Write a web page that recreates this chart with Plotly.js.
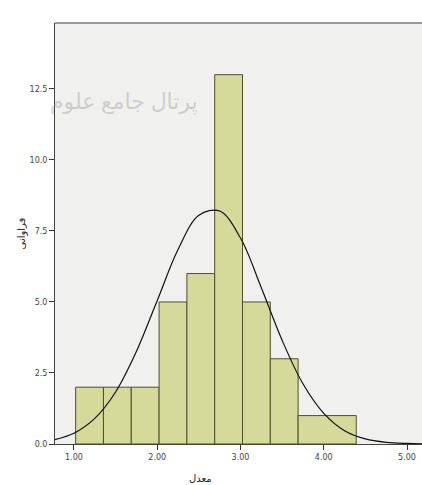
<!DOCTYPE html>
<html>
<head>
<meta charset="utf-8">
<script src="https://cdn.plot.ly/plotly-3.0.1.min.js"></script>
<style>html,body{margin:0;padding:0;background:#fff;}#chart{width:422px;height:485px;}</style>
</head>
<body>
<div id="chart"></div>
<script>
// Histogram bins
const binStart = [1.02, 1.354, 1.688, 2.022, 2.356, 2.69, 3.024, 3.358, 3.692];
const binEnd   = [1.354, 1.688, 2.022, 2.356, 2.69, 3.024, 3.358, 3.692, 4.39];
const counts   = [2, 2, 2, 5, 6, 13, 5, 3, 1];

// Normal curve values
const curveX = [0.75, 1.0, 1.25, 1.5, 1.75, 2.0, 2.25, 2.5, 2.75, 3.0, 3.25, 3.5, 3.75, 4.0, 4.25, 4.5, 4.75, 5.0, 5.25];
const curveY = [0.14, 0.38, 0.90, 1.83, 3.26, 5.05, 6.85, 8.05, 8.2, 7.25, 5.5, 3.65, 2.12, 1.08, 0.47, 0.18, 0.06, 0.02, 0.005];

const xTickVals = [1, 2, 3, 4, 5];
const xTickText = ["1.00", "2.00", "3.00", "4.00", "5.00"];
const yTickVals = [0, 2.5, 5, 7.5, 10, 12.5];
const yTickText = ["0.0", "2.5", "5.0", "7.5", "10.0", "12.5"];

const xTitle = "معدل";
const yTitle = "فراوانی";
const watermark = "پرتال جامع علوم";

const centers = binStart.map((s, i) => (s + binEnd[i]) / 2);
const widths = binStart.map((s, i) => binEnd[i] - s);

const traces = [
  {
    type: "bar",
    x: centers,
    y: counts,
    width: widths,
    marker: { color: "#d5d99a", line: { color: "#4f4f2a", width: 1 } },
    hoverinfo: "skip"
  },
  {
    type: "scatter",
    mode: "lines",
    x: curveX,
    y: curveY,
    line: { color: "#111", width: 1.2, shape: "spline" },
    hoverinfo: "skip"
  }
];

const axisFont = { family: "DejaVu Sans, sans-serif", size: 8, color: "#444" };
const titleFont = { family: "Noto Sans, DejaVu Sans, sans-serif", size: 10, color: "#222" };

const layout = {
  width: 422,
  height: 485,
  margin: { l: 55, r: 0, t: 23, b: 41 },
  paper_bgcolor: "#ffffff",
  plot_bgcolor: "#f0f0ef",
  showlegend: false,
  bargap: 0,
  xaxis: {
    range: [0.772, 5.18],
    tickvals: xTickVals,
    ticktext: xTickText,
    ticks: "outside",
    ticklen: 5,
    tickcolor: "#333",
    tickfont: axisFont,
    showgrid: false,
    zeroline: false,
    showline: true,
    linecolor: "#444",
    linewidth: 1
  },
  yaxis: {
    range: [0, 14.82],
    tickvals: yTickVals,
    ticktext: yTickText,
    ticks: "outside",
    ticklen: 5,
    tickcolor: "#333",
    tickfont: axisFont,
    showgrid: false,
    zeroline: false,
    showline: true,
    linecolor: "#444",
    linewidth: 1,
    title: { text: yTitle, font: titleFont, standoff: 2 }
  },
  shapes: [
    { type: "line", xref: "paper", yref: "paper", x0: 0, x1: 1, y0: 1, y1: 1, line: { color: "#9a9a9a", width: 2 } }
  ],
  annotations: [
    {
      xref: "paper", yref: "paper",
      x: (200 - 55) / 367, y: -(478 - 444) / 421,
      xanchor: "center", yanchor: "middle",
      text: xTitle,
      showarrow: false,
      font: titleFont
    },
    {
      xref: "paper", yref: "paper",
      x: (200 - 55) / 367, y: 1 - (100 - 23) / 421,
      xanchor: "right", yanchor: "middle",
      text: watermark,
      showarrow: false,
      font: { family: "Noto Sans, DejaVu Sans, sans-serif", size: 22, color: "rgba(150,150,150,0.4)" }
    }
  ]
};

Plotly.newPlot("chart", traces, layout, { displayModeBar: false, staticPlot: true });
</script>
</body>
</html>
